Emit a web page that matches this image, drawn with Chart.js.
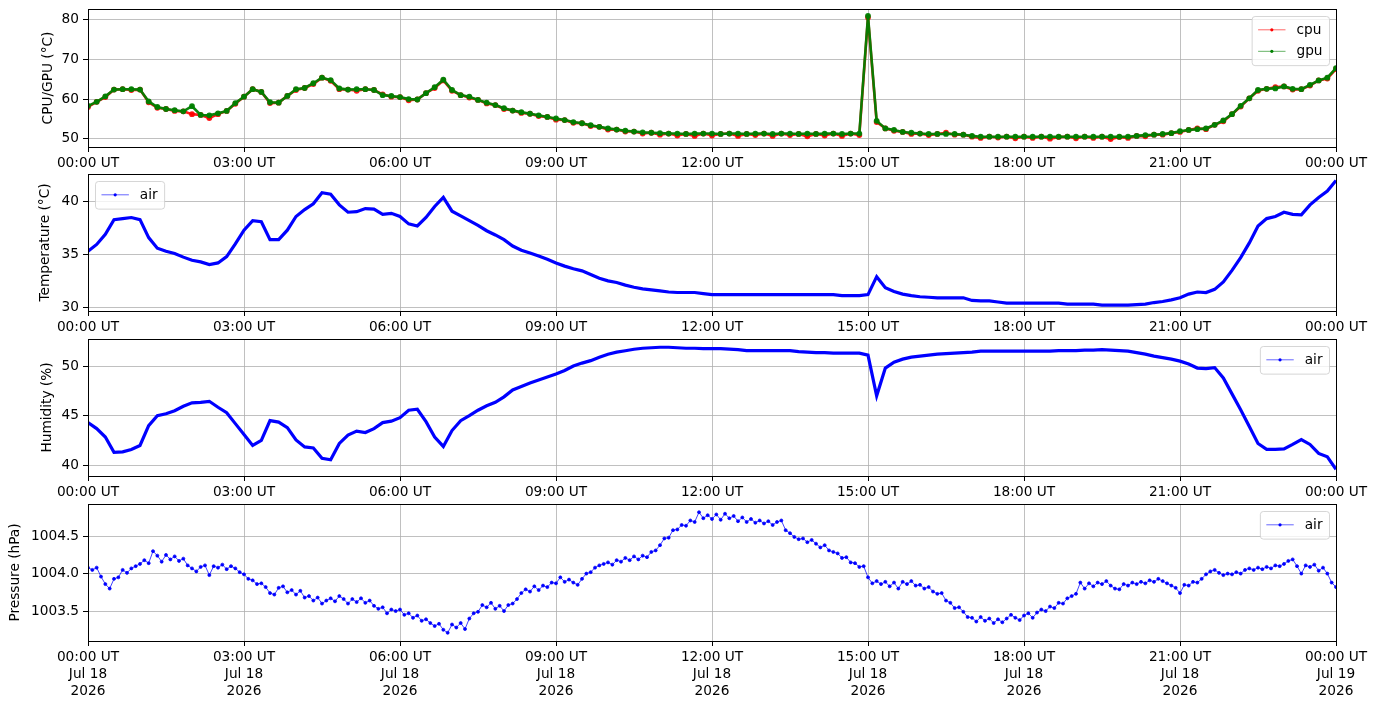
<!DOCTYPE html>
<html>
<head>
<meta charset="utf-8">
<script src="https://cdn.jsdelivr.net/npm/chart.js@4.4.0/dist/chart.umd.min.js"></script>
<style>
  html, body { margin: 0; padding: 0; background: #fff; }
  body { width: 1377px; height: 707px; position: relative; overflow: hidden; }
  .panel { position: absolute; left: 0; }
</style>
</head>
<body>
<div class="panel" id="p1"><canvas id="c1"></canvas></div>
<div class="panel" id="p2"><canvas id="c2"></canvas></div>
<div class="panel" id="p3"><canvas id="c3"></canvas></div>
<div class="panel" id="p4"><canvas id="c4"></canvas></div>
<script>
// sample spacing, minutes
const STEP_SLOW = 10;   // cpu, gpu, temperature, humidity
const STEP_FAST = 5;    // pressure

// one row per hour (:00 :10 :20 :30 :40 :50), last value is 24:00
const gpu = [
  58.3, 59.3, 60.7, 62.4, 62.5, 62.5,
  62.4, 59.4, 58.0, 57.5, 57.2, 56.9,
  58.2, 56.0, 55.9, 56.4, 57.0, 59.0,
  60.6, 62.5, 61.8, 59.2, 59.1, 60.8,
  62.5, 62.8, 64.0, 65.4, 64.8, 62.7,
  62.4, 62.5, 62.5, 62.3, 61.0, 60.8,
  60.5, 60.0, 59.9, 61.5, 63.0, 64.9,
  62.3, 61.0, 60.6, 59.8, 59.1, 58.5,
  57.7, 57.1, 56.7, 56.3, 55.9, 55.5,
  55.1, 54.7, 54.2, 53.9, 53.4, 53.0,
  52.6, 52.3, 52.0, 51.8, 51.6, 51.5,
  51.4, 51.3, 51.3, 51.2, 51.3, 51.3,
  51.3, 51.2, 51.3, 51.3, 51.2, 51.3,
  51.3, 51.2, 51.3, 51.3, 51.2, 51.3,
  51.2, 51.3, 51.3, 51.2, 51.3, 51.3,
  81.0, 54.5, 52.6, 52.2, 51.7, 51.5,
  51.3, 51.2, 51.2, 51.2, 51.2, 51.0,
  50.7, 50.5, 50.5, 50.5, 50.5, 50.5,
  50.5, 50.5, 50.5, 50.5, 50.5, 50.5,
  50.5, 50.5, 50.5, 50.5, 50.5, 50.5,
  50.5, 50.7, 50.9, 51.0, 51.2, 51.4,
  51.9, 52.2, 52.4, 52.6, 53.5, 54.6,
  56.2, 58.3, 60.2, 62.3, 62.6, 62.7,
  63.2, 62.6, 62.5, 63.6, 64.7, 65.4,
  67.8
];

const cpu = [
  58.0, 59.3, 60.5, 62.4, 62.5, 62.3,
  62.4, 59.2, 57.8, 57.5, 57.0, 56.9,
  56.2, 56.0, 55.2, 56.2, 57.0, 58.8,
  60.6, 62.5, 61.8, 59.0, 59.1, 60.8,
  62.3, 62.8, 63.8, 65.4, 64.6, 62.5,
  62.4, 62.1, 62.5, 62.3, 61.2, 60.6,
  60.5, 59.7, 59.9, 61.5, 62.8, 64.7,
  62.1, 61.0, 60.4, 59.8, 58.9, 58.5,
  57.5, 57.1, 56.5, 56.3, 55.7, 55.5,
  54.8, 54.7, 54.0, 53.9, 53.2, 53.0,
  52.3, 52.3, 51.8, 51.8, 51.3, 51.5,
  51.0, 51.3, 50.8, 51.2, 50.7, 51.3,
  50.8, 51.2, 51.3, 50.7, 51.2, 50.9,
  51.3, 50.7, 51.3, 50.9, 51.2, 50.6,
  51.2, 50.8, 51.3, 50.7, 51.3, 50.9,
  80.6, 54.2, 52.6, 52.0, 51.7, 51.2,
  51.3, 50.9, 51.2, 51.5, 51.0, 51.0,
  50.5, 50.2, 50.5, 50.3, 50.5, 50.1,
  50.5, 50.2, 50.5, 50.0, 50.4, 50.5,
  50.1, 50.5, 50.2, 50.5, 49.9, 50.4,
  50.2, 50.7, 50.6, 51.0, 51.0, 51.4,
  51.7, 52.2, 52.6, 52.4, 53.5, 54.4,
  56.2, 58.1, 60.2, 62.1, 62.6, 63.0,
  63.2, 62.4, 62.5, 63.4, 64.7, 65.2,
  67.6
];

const airTemp = [
  35.3, 35.95, 36.9, 38.3, 38.4, 38.5,
  38.3, 36.6, 35.6, 35.3, 35.1, 34.75,
  34.45, 34.3, 34.05, 34.2, 34.8, 36.0,
  37.3, 38.2, 38.1, 36.4, 36.4, 37.3,
  38.6, 39.25, 39.8, 40.85, 40.7, 39.7,
  39.0, 39.05, 39.35, 39.3, 38.8, 38.9,
  38.6, 37.9, 37.7, 38.5, 39.55, 40.4,
  39.1, 38.65, 38.2, 37.75, 37.25, 36.85,
  36.4, 35.8, 35.4, 35.15, 34.85, 34.55,
  34.2, 33.9, 33.65, 33.45, 33.1, 32.75,
  32.5, 32.35, 32.1, 31.9, 31.75, 31.65,
  31.55, 31.45, 31.4, 31.4, 31.4, 31.3,
  31.2, 31.2, 31.2, 31.2, 31.2, 31.2,
  31.2, 31.2, 31.2, 31.2, 31.2, 31.2,
  31.2, 31.2, 31.2, 31.1, 31.1, 31.1,
  31.2, 32.9, 31.85, 31.5, 31.25, 31.1,
  31.0, 30.95, 30.9, 30.9, 30.9, 30.9,
  30.65, 30.6, 30.6, 30.5, 30.4, 30.4,
  30.4, 30.4, 30.4, 30.4, 30.4, 30.3,
  30.3, 30.3, 30.3, 30.2, 30.2, 30.2,
  30.2, 30.25, 30.3, 30.45, 30.55, 30.7,
  30.9, 31.25, 31.45, 31.4, 31.7, 32.4,
  33.5, 34.7, 36.1, 37.7, 38.4, 38.6,
  39.0, 38.8, 38.75, 39.7, 40.4, 41.0,
  42.0
];

const airHum = [
  44.3, 43.7, 42.85, 41.3, 41.35, 41.6,
  42.0, 44.0, 45.0, 45.2, 45.5, 45.95,
  46.3, 46.35, 46.45, 45.85, 45.3, 44.2,
  43.1, 42.0, 42.5, 44.5, 44.35, 43.8,
  42.55, 41.85, 41.75, 40.7, 40.55, 42.2,
  43.05, 43.45, 43.3, 43.7, 44.3, 44.45,
  44.8, 45.55, 45.65, 44.4, 42.85, 41.9,
  43.5, 44.5, 45.0, 45.55, 46.0, 46.35,
  46.9, 47.6, 47.95, 48.3, 48.6, 48.9,
  49.2, 49.55, 50.0, 50.3, 50.55, 50.9,
  51.2, 51.4, 51.55, 51.7, 51.8, 51.85,
  51.9, 51.9, 51.85, 51.8, 51.8, 51.75,
  51.75, 51.75, 51.7, 51.65, 51.55, 51.55,
  51.55, 51.55, 51.55, 51.55, 51.45, 51.4,
  51.35, 51.35, 51.3, 51.3, 51.3, 51.3,
  51.1, 47.0, 49.8, 50.4, 50.7, 50.9,
  51.0, 51.1, 51.2, 51.25, 51.3, 51.35,
  51.4, 51.5, 51.5, 51.5, 51.5, 51.5,
  51.5, 51.5, 51.5, 51.5, 51.55, 51.55,
  51.55, 51.6, 51.6, 51.65, 51.6, 51.55,
  51.5, 51.35, 51.2, 51.0, 50.85, 50.7,
  50.5, 50.2, 49.8, 49.75, 49.85, 48.8,
  47.2, 45.6, 43.9, 42.2, 41.6, 41.6,
  41.65, 42.1, 42.6, 42.1, 41.2, 40.85,
  39.6
];

// one row per hour, every 5 minutes
const airPres = [
  1004.08, 1004.05, 1004.08, 1003.96, 1003.86, 1003.80, 1003.93, 1003.95, 1004.05, 1004.01, 1004.07, 1004.10,
  1004.13, 1004.18, 1004.14, 1004.30, 1004.24, 1004.16, 1004.25, 1004.19, 1004.23, 1004.17, 1004.20, 1004.11,
  1004.07, 1004.03, 1004.09, 1004.11, 1003.98, 1004.10, 1004.08, 1004.12, 1004.06, 1004.10, 1004.07, 1004.02,
  1003.99, 1003.93, 1003.91, 1003.86, 1003.87, 1003.82, 1003.74, 1003.72, 1003.81, 1003.83, 1003.75, 1003.78,
  1003.72, 1003.77, 1003.68, 1003.70, 1003.64, 1003.68, 1003.60, 1003.64, 1003.67, 1003.63, 1003.70, 1003.66,
  1003.60, 1003.66, 1003.62, 1003.67, 1003.61, 1003.64, 1003.57, 1003.53, 1003.55, 1003.47, 1003.52, 1003.50,
  1003.52, 1003.45, 1003.47, 1003.41, 1003.44, 1003.37, 1003.39, 1003.34, 1003.30, 1003.33, 1003.25, 1003.21,
  1003.32, 1003.28, 1003.34, 1003.26, 1003.40, 1003.47, 1003.49, 1003.58, 1003.55, 1003.61, 1003.53, 1003.57,
  1003.50, 1003.58, 1003.60, 1003.66, 1003.74, 1003.79, 1003.76, 1003.83, 1003.78, 1003.84, 1003.82, 1003.88,
  1003.87, 1003.95, 1003.89, 1003.92, 1003.88, 1003.85, 1003.93, 1004.00, 1004.02, 1004.08, 1004.11, 1004.13,
  1004.15, 1004.12, 1004.18, 1004.16, 1004.21, 1004.18, 1004.23, 1004.19, 1004.24, 1004.22, 1004.29, 1004.31,
  1004.38, 1004.47, 1004.48, 1004.58, 1004.59, 1004.65, 1004.64, 1004.71, 1004.69, 1004.82, 1004.74, 1004.78,
  1004.73, 1004.79, 1004.72, 1004.80, 1004.74, 1004.77, 1004.70, 1004.75, 1004.69, 1004.73, 1004.68, 1004.71,
  1004.67, 1004.70, 1004.65, 1004.69, 1004.71, 1004.58, 1004.54, 1004.49, 1004.46, 1004.47, 1004.42, 1004.45,
  1004.40, 1004.35, 1004.38, 1004.31, 1004.29, 1004.27, 1004.21, 1004.22, 1004.15, 1004.14, 1004.09, 1004.10,
  1003.95, 1003.87, 1003.90, 1003.86, 1003.89, 1003.83, 1003.88, 1003.80, 1003.89, 1003.86, 1003.90, 1003.84,
  1003.85, 1003.80, 1003.82, 1003.76, 1003.73, 1003.74, 1003.64, 1003.61, 1003.54, 1003.55, 1003.49, 1003.42,
  1003.41, 1003.36, 1003.42, 1003.37, 1003.40, 1003.34, 1003.39, 1003.35, 1003.40, 1003.45, 1003.41, 1003.38,
  1003.44, 1003.47, 1003.41, 1003.48, 1003.52, 1003.50, 1003.56, 1003.54, 1003.61, 1003.60, 1003.67, 1003.70,
  1003.73, 1003.88, 1003.80, 1003.87, 1003.83, 1003.88, 1003.86, 1003.90, 1003.84, 1003.80, 1003.79, 1003.86,
  1003.84, 1003.88, 1003.86, 1003.89, 1003.87, 1003.91, 1003.89, 1003.93, 1003.90, 1003.87, 1003.84, 1003.81,
  1003.74, 1003.85, 1003.84, 1003.89, 1003.88, 1003.93, 1003.99, 1004.03, 1004.05, 1004.01, 1003.98, 1004.00,
  1003.99, 1004.02, 1004.00, 1004.05, 1004.07, 1004.05, 1004.08, 1004.06, 1004.09, 1004.07, 1004.11, 1004.10,
  1004.13, 1004.17, 1004.19, 1004.10, 1004.00, 1004.11, 1004.09, 1004.12, 1004.04, 1004.08, 1004.00, 1003.88,
  1003.82
];

const hourTicks = [0, 3, 6, 9, 12, 15, 18, 21, 24];
const tickTimes = ['00:00 UT', '03:00 UT', '06:00 UT', '09:00 UT', '12:00 UT', '15:00 UT', '18:00 UT', '21:00 UT', '00:00 UT'];
const tickDates = ['Jul 18', 'Jul 18', 'Jul 18', 'Jul 18', 'Jul 18', 'Jul 18', 'Jul 18', 'Jul 18', 'Jul 19'];
const tickYears = ['2026', '2026', '2026', '2026', '2026', '2026', '2026', '2026', '2026'];

const cpuTicks = [50, 60, 70, 80];
const tempTicks = [30, 35, 40];
const humTicks = [40, 45, 50];
const presTicks = [1003.5, 1004.0, 1004.5];

const FONT = { family: 'DejaVu Sans', size: 13.7 };
const PLOT_LEFT = 88;

function toPoints(vals, step) {
  return vals.map((v, i) => ({ x: i * step / 60, y: v }));
}

// matplotlib-like frame around the axes
const framePlugin = {
  id: 'frame',
  afterDraw(chart) {
    const a = chart.chartArea, ctx = chart.ctx;
    ctx.save();
    ctx.strokeStyle = '#000';
    ctx.lineWidth = 1;
    ctx.strokeRect(Math.round(a.left) + 0.5, Math.round(a.top) + 0.5,
      Math.round(a.right - a.left), Math.round(a.bottom - a.top));
    ctx.restore();
  }
};

// legend drawn inside the axes (upper left / upper right)
const boxLegend = {
  id: 'boxLegend',
  afterDraw(chart, args, opts) {
    if (!opts.items) return;
    const ctx = chart.ctx, a = chart.chartArea, fs = FONT.size;
    ctx.save();
    ctx.font = fs + 'px "DejaVu Sans"';
    const pad = 0.4 * fs, handle = 2 * fs, gap = 0.8 * fs, rowH = 1.07 * fs, spacing = 0.5 * fs;
    const textW = Math.max(...opts.items.map(it => ctx.measureText(it.label).width));
    const w = pad * 2 + handle + gap + textW + 2;
    const h = pad * 2 + opts.items.length * rowH + (opts.items.length - 1) * spacing + 2;
    const x = opts.loc === 'left' ? a.left + 7 : a.right - 7 - w;
    const y = a.top + 7;
    ctx.beginPath();
    ctx.roundRect(x + 0.5, y + 0.5, w, h, 3);
    ctx.fillStyle = 'rgba(255,255,255,0.8)';
    ctx.fill();
    ctx.strokeStyle = 'rgba(204,204,204,0.8)';
    ctx.lineWidth = 1;
    ctx.stroke();
    opts.items.forEach((it, i) => {
      const cy = y + 1 + pad + rowH / 2 + i * (rowH + spacing);
      const lx = x + pad + 1;
      ctx.strokeStyle = it.line;
      ctx.lineWidth = 1;
      ctx.beginPath();
      ctx.moveTo(lx, cy);
      ctx.lineTo(lx + handle, cy);
      ctx.stroke();
      ctx.fillStyle = it.color;
      ctx.beginPath();
      ctx.arc(lx + handle / 2, cy, 1.6, 0, Math.PI * 2);
      ctx.fill();
      ctx.fillStyle = '#000';
      ctx.textBaseline = 'middle';
      ctx.textAlign = 'left';
      ctx.fillText(it.label, lx + handle + gap, cy + 0.5);
    });
    ctx.restore();
  }
};

function makePanel(cfg) {
  const div = document.getElementById(cfg.div);
  const canvas = document.getElementById(cfg.canvas);
  const padTop = 10;
  const top = cfg.plotTop - padTop;
  const height = cfg.plotBottom - top + cfg.axisH;
  div.style.top = top + 'px';
  canvas.width = 1377;
  canvas.height = height;
  canvas.style.width = '1377px';
  canvas.style.height = height + 'px';

  return new Chart(canvas, {
    type: 'line',
    data: { datasets: cfg.datasets },
    plugins: [framePlugin, boxLegend],
    options: {
      responsive: false,
      animation: false,
      parsing: false,
      layout: { padding: { top: padTop, left: cfg.padLeft, right: 41, bottom: 0 } },
      plugins: {
        legend: { display: false },
        tooltip: { enabled: false },
        boxLegend: { items: cfg.legend, loc: cfg.legendLoc }
      },
      elements: { line: { tension: 0 }, point: { borderWidth: 0, hoverRadius: 0 } },
      scales: {
        x: {
          type: 'linear',
          min: 0,
          max: 24,
          afterBuildTicks: s => { s.ticks = hourTicks.map(v => ({ value: v })); },
          afterFit: s => { s.height = cfg.axisH; s.paddingLeft = 0; s.paddingRight = 0; },
          ticks: {
            autoSkip: false,
            maxRotation: 0,
            minRotation: 0,
            padding: 3,
            color: '#000',
            font: { family: FONT.family, size: FONT.size, lineHeight: 1.24 },
            callback: (v, i) => cfg.fullDates ? [tickTimes[i], tickDates[i], tickYears[i]] : tickTimes[i]
          },
          grid: { color: '#b0b0b0', lineWidth: 0.8, tickColor: '#000', tickLength: 5, tickWidth: 1 },
          border: { display: false }
        },
        y: {
          type: 'linear',
          min: cfg.yMin,
          max: cfg.yMax,
          afterBuildTicks: s => { s.ticks = cfg.yTicks.map(v => ({ value: v })); },
          afterFit: s => { s.width = PLOT_LEFT - cfg.padLeft; s.paddingTop = 0; s.paddingBottom = 0; },
          ticks: {
            padding: 4,
            color: '#000',
            font: FONT,
            callback: v => cfg.yDigits ? v.toFixed(cfg.yDigits) : String(v)
          },
          grid: { color: '#b0b0b0', lineWidth: 0.8, tickColor: '#000', tickLength: 5, tickWidth: 1 },
          border: { display: false },
          title: { display: true, text: cfg.yTitle, color: '#000', font: FONT, padding: { top: 0, bottom: 0 } }
        }
      }
    }
  });
}

makePanel({
  div: 'p1', canvas: 'c1', plotTop: 9, plotBottom: 147, axisH: 30, padLeft: 40,
  yMin: 47.9, yMax: 82.75, yTicks: cpuTicks, yTitle: 'CPU/GPU (°C)',
  legendLoc: 'right',
  legend: [
    { label: 'cpu', color: 'red', line: 'rgba(255,0,0,0.6)' },
    { label: 'gpu', color: 'green', line: 'rgba(0,128,0,0.6)' }
  ],
  datasets: [
    { label: 'gpu', data: toPoints(gpu, STEP_SLOW), order: 0, borderColor: 'rgba(0,128,0,0.95)', borderWidth: 2.6,
      pointRadius: 1.6, pointBackgroundColor: 'green' },
    { label: 'cpu', data: toPoints(cpu, STEP_SLOW), order: 1, borderColor: 'rgba(255,0,0,0.9)', borderWidth: 2.6,
      pointRadius: 1.6, pointBackgroundColor: 'red' }
  ]
});

makePanel({
  div: 'p2', canvas: 'c2', plotTop: 174, plotBottom: 311, axisH: 30, padLeft: 37,
  yMin: 29.65, yMax: 42.62, yTicks: tempTicks, yTitle: 'Temperature (°C)',
  legendLoc: 'left',
  legend: [{ label: 'air', color: 'blue', line: 'rgba(0,0,255,0.6)' }],
  datasets: [
    { label: 'air', data: toPoints(airTemp, STEP_SLOW), borderColor: 'blue', borderWidth: 3.2, pointRadius: 0 }
  ]
});

makePanel({
  div: 'p3', canvas: 'c3', plotTop: 339, plotBottom: 476, axisH: 30, padLeft: 39,
  yMin: 38.92, yMax: 52.73, yTicks: humTicks, yTitle: 'Humidity (%)',
  legendLoc: 'right',
  legend: [{ label: 'air', color: 'blue', line: 'rgba(0,0,255,0.6)' }],
  datasets: [
    { label: 'air', data: toPoints(airHum, STEP_SLOW), borderColor: 'blue', borderWidth: 3.2, pointRadius: 0 }
  ]
});

makePanel({
  div: 'p4', canvas: 'c4', plotTop: 504, plotBottom: 641, axisH: 62, padLeft: 7,
  yMin: 1003.10, yMax: 1004.93, yTicks: presTicks, yDigits: 1, yTitle: 'Pressure (hPa)',
  fullDates: true,
  legendLoc: 'right',
  legend: [{ label: 'air', color: 'blue', line: 'rgba(0,0,255,0.6)' }],
  datasets: [
    { label: 'air', data: toPoints(airPres, STEP_FAST), borderColor: 'rgba(0,0,255,0.75)', borderWidth: 1,
      pointRadius: 1.5, pointBackgroundColor: 'blue' }
  ]
});
</script>
</body>
</html>
